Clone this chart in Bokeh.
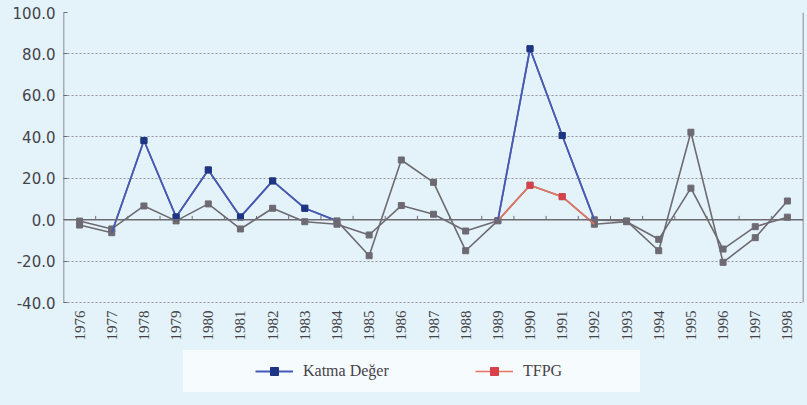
import math
from bokeh.plotting import figure
from bokeh.models import (Range1d, FixedTicker, Span, Legend, LegendItem)
from bokeh.embed import file_html
from bokeh.resources import INLINE

years = [str(y) for y in range(1976, 1999)]
katma = [-2.6, -6.3, 38.2, 1.3, 24.0, 1.3, 18.7, 5.5, -0.6, -17.4, 28.8, 18.0,
         -15.0, -0.5, 82.5, 40.6, -0.1, -0.6, -15.0, 42.2, -20.6, -8.7, 9.0]
tfpg = [-0.7, -4.5, 6.6, -0.6, 7.6, -4.5, 5.5, -1.0, -2.2, -7.4, 6.8, 2.6,
        -5.5, -0.5, 16.6, 11.1, -2.2, -1.0, -9.5, 15.2, -14.2, -3.4, 1.2]
y_ticks = [-40, -20, 0, 20, 40, 60, 80, 100]
# index spans drawn in series colour (rest is grey as in the source)
blue_spans = [(1, 9), (13, 17)]
red_spans = [(13, 17)]

BG = "#e4f3f9"
GREY = "#6e6a72"
BLUE = "#4459b8"
BLUE_M = "#1c3585"
RED = "#e8735f"
RED_M = "#d8404a"
TXT = "#45434a"

xs = list(range(len(years)))
y_lo, y_hi = y_ticks[0], y_ticks[-1]
# the frame continues below the value axis to hold year labels and legend
y_bottom = y_lo - 103 * (y_hi - y_lo) / 290

p = figure(width=807, height=405, output_backend="svg", toolbar_location=None,
           x_range=Range1d(-0.5, len(years) - 0.5), y_range=Range1d(y_bottom, y_hi),
           x_axis_location=None,
           min_border_left=63, min_border_right=4, min_border_top=12, min_border_bottom=0)
p.background_fill_color = BG
p.border_fill_color = BG
p.outline_line_color = None

# grid
p.xgrid.grid_line_color = None
p.ygrid.ticker = FixedTicker(ticks=y_ticks)
p.ygrid.grid_line_color = "#94949c"
p.ygrid.grid_line_dash = "2 2"
p.ygrid.grid_line_width = 1

# y axis
p.yaxis.ticker = FixedTicker(ticks=y_ticks)
p.yaxis.major_label_overrides = {t: f"{t:.1f}" for t in y_ticks}
p.yaxis.axis_line_color = None
p.yaxis.major_tick_in = 4
p.yaxis.major_tick_out = 0
p.yaxis.major_tick_line_color = GREY
p.yaxis.minor_tick_line_color = None
p.yaxis.major_label_text_font = "DejaVu Sans"
p.yaxis.major_label_text_font_size = "15px"
p.yaxis.major_label_text_color = TXT
p.yaxis.major_label_standoff = 8

# zero line, left and right borders of the value area
p.add_layout(Span(location=0, dimension="width", line_color=GREY, line_width=1.5))
edges = [-0.5, len(years) - 0.5]
p.segment(x0=edges, y0=[y_lo] * 2, x1=edges, y1=[y_hi] * 2, line_color=GREY, line_width=1.5)

# small ticks on the zero line between categories
bx = [i + 0.5 for i in xs[:-1]]
p.segment(x0=bx, y0=[0] * len(bx), x1=bx, y1=[1.8] * len(bx), line_color=GREY, line_width=1)

# year labels
p.text(x=xs, y=[y_lo] * len(xs), text=years, angle=math.pi / 2, y_offset=8,
       text_align="right", text_baseline="middle",
       text_font={"value": "Liberation Serif"}, text_font_size={"value": "15px"},
       text_color=TXT)

# full grey series
for vals in (tfpg, katma):
    p.line(xs, vals, line_color=GREY, line_width=1.6)
    p.scatter(xs, vals, marker="square", size=6, fill_color=GREY, line_color=GREY)

# coloured spans
blue_line = blue_pts = red_line = red_pts = None
for a, b in red_spans:
    red_line = p.line(xs[a:b], tfpg[a:b], line_color=RED, line_width=1.6)
    red_pts = p.scatter(xs[a + 1:b - 1], tfpg[a + 1:b - 1], marker="square", size=6,
                        fill_color=RED_M, line_color=RED_M)
for a, b in blue_spans:
    blue_line = p.line(xs[a:b], katma[a:b], line_color=BLUE, line_width=1.8)
    blue_pts = p.scatter(xs[a + 1:b - 1], katma[a + 1:b - 1], marker="square", size=6,
                         fill_color=BLUE_M, line_color=BLUE_M)

# legend background box
dummy = p.scatter([], [], fill_alpha=0, line_alpha=0)
bg_leg = Legend(items=[LegendItem(label=" ", renderers=[dummy])],
                location=(120, 13), padding=0, margin=0, glyph_width=1, glyph_height=42,
                label_width=456, label_height=42, label_standoff=0,
                background_fill_color="#f6fbfd", background_fill_alpha=1,
                border_line_color=None)
p.add_layout(bg_leg)

leg = Legend(items=[LegendItem(label="Katma Değer", renderers=[blue_line, blue_pts]),
                    LegendItem(label="TFPG", renderers=[red_line, red_pts])],
             location=(192, 24), orientation="horizontal", padding=0, margin=0,
             glyph_width=38, glyph_height=20, label_width=172, label_height=20,
             label_standoff=10, spacing=0, background_fill_alpha=0, border_line_color=None,
             label_text_font="Liberation Serif", label_text_font_size="16px",
             label_text_color=TXT)
p.add_layout(leg)

html = file_html(p, INLINE)
html = html.replace("<head>", "<head><style>html,body{background:%s;}</style>" % BG, 1)
open("out.html", "w").write(html)
